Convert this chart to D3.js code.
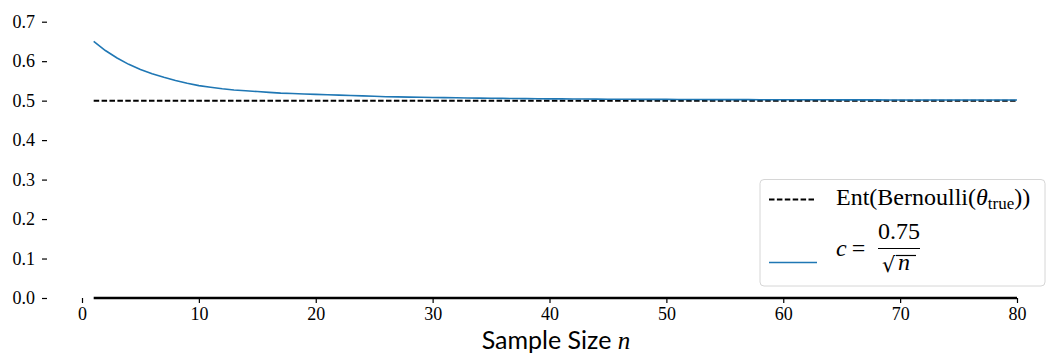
<!DOCTYPE html>
<html>
<head>
<meta charset="utf-8">
<script src="https://cdn.jsdelivr.net/npm/d3@7"></script>
<style>
  body { margin: 0; background: #fff; }
  svg text { font-family: "Liberation Serif", serif; }
</style>
</head>
<body>
<svg id="chart" width="1048" height="360"></svg>
<script>
// sample sizes and the estimated entropy
let sampleSizes = d3.range(1, 81);
let entropyEst = [
  0.650, 0.627, 0.608, 0.592, 0.579, 0.568, 0.559, 0.551, 0.544, 0.538,
  0.534, 0.530, 0.527, 0.525, 0.523, 0.521, 0.519, 0.518, 0.517, 0.516,
  0.515, 0.514, 0.513, 0.512, 0.511, 0.510, 0.5095, 0.509, 0.5085, 0.508,
  0.5076, 0.5072, 0.5068, 0.5064, 0.506, 0.5057, 0.5054, 0.5051, 0.5048, 0.5046,
  0.5044, 0.5042, 0.5040, 0.5038, 0.5036, 0.5035, 0.5034, 0.5033, 0.5032, 0.5031,
  0.5030, 0.5029, 0.5028, 0.5027, 0.5026, 0.5025, 0.5025, 0.5024, 0.5023, 0.5023,
  0.5022, 0.5022, 0.5021, 0.5021, 0.5020, 0.5020, 0.5019, 0.5019, 0.5018, 0.5018,
  0.5018, 0.5017, 0.5017, 0.5017, 0.5016, 0.5016, 0.5016, 0.5015, 0.5015, 0.5015
];
let trueEntropy = 0.5;
let xTicks = [0, 10, 20, 30, 40, 50, 60, 70, 80];
let yTicks = [0, 0.1, 0.2, 0.3, 0.4, 0.5, 0.6, 0.7];

let svg = d3.select("#chart");

let x = d3.scaleLinear().domain([0, 80]).range([82, 1017]);
let y = d3.scaleLinear().domain([0, 0.7]).range([298, 21.7]);

// y axis: ticks only, no spine
let yAxis = d3.axisLeft(y).tickValues(yTicks).tickFormat(d3.format(".1f"))
    .tickSize(5).tickPadding(7);
let gy = svg.append("g").attr("transform", "translate(47,0)").call(yAxis);
gy.select(".domain").remove();
gy.selectAll(".tick line").attr("stroke", "#000").attr("stroke-width", 1.2);
gy.selectAll("text").style("font-size", "18px").attr("fill", "#000");

// x axis: spine trimmed to the data range
let xAxis = d3.axisBottom(x).tickValues(xTicks).tickSize(5).tickPadding(4);
let gx = svg.append("g").attr("transform", "translate(0,298)").call(xAxis);
gx.select(".domain").remove();
gx.selectAll(".tick line").attr("stroke", "#000").attr("stroke-width", 1.2);
gx.selectAll("text").style("font-size", "18px").attr("fill", "#000");

svg.append("line")
    .attr("x1", x(1)).attr("x2", x(80))
    .attr("y1", 298).attr("y2", 298)
    .attr("stroke", "#000").attr("stroke-width", 2.5);

// true entropy
svg.append("line")
    .attr("x1", x(1)).attr("x2", x(80))
    .attr("y1", y(trueEntropy)).attr("y2", y(trueEntropy))
    .attr("stroke", "#000").attr("stroke-width", 2)
    .attr("stroke-dasharray", "5.5,2.4");

// estimate curve
let line = d3.line()
    .x(function(d, i) { return x(sampleSizes[i]); })
    .y(function(d) { return y(d); });

svg.append("path")
    .datum(entropyEst)
    .attr("d", line)
    .attr("fill", "none")
    .attr("stroke", "#1f77b4")
    .attr("stroke-width", 1.6);

// x label
let xl = svg.append("text")
    .attr("x", 556).attr("y", 349)
    .attr("text-anchor", "middle")
    .style("font-family", "Lato, sans-serif")
    .style("font-size", "25px");
xl.append("tspan").text("Sample Size ");
xl.append("tspan").style("font-family", "Liberation Serif, serif").style("font-style", "italic").text("n");

// legend
let lg = svg.append("g");
lg.append("rect")
    .attr("x", 760).attr("y", 179.5).attr("width", 285).attr("height", 106.5)
    .attr("rx", 4).attr("fill", "#fff").attr("fill-opacity", 0.8)
    .attr("stroke", "#d6d6d6").attr("stroke-width", 1);

lg.append("line")
    .attr("x1", 769).attr("x2", 814).attr("y1", 199.5).attr("y2", 199.5)
    .attr("stroke", "#000").attr("stroke-width", 2)
    .attr("stroke-dasharray", "5.5,2.4");

let t1 = lg.append("text").attr("x", 836).attr("y", 204.5).style("font-size", "24px");
t1.append("tspan").text("Ent(Bernoulli(");
t1.append("tspan").style("font-style", "italic").text("θ");
t1.append("tspan").attr("dy", 4).style("font-size", "17px").text("true");
t1.append("tspan").attr("dy", -4).text("))");

lg.append("line")
    .attr("x1", 769).attr("x2", 817).attr("y1", 262.5).attr("y2", 262.5)
    .attr("stroke", "#1f77b4").attr("stroke-width", 1.6);

let t2 = lg.append("text").attr("x", 836).attr("y", 256).style("font-size", "24px");
t2.append("tspan").style("font-style", "italic").text("c");
t2.append("tspan").attr("dx", 5).text("=");

lg.append("text").attr("x", 899).attr("y", 238.5).attr("text-anchor", "middle")
    .style("font-size", "24px").text("0.75");
lg.append("line").attr("x1", 878).attr("x2", 920).attr("y1", 248.5).attr("y2", 248.5)
    .attr("stroke", "#000").attr("stroke-width", 1.2);
lg.append("text").attr("x", 882).attr("y", 272)
    .style("font-family", "DejaVu Serif, serif").style("font-size", "21px").text("√");
lg.append("line").attr("x1", 896).attr("x2", 916).attr("y1", 255.5).attr("y2", 255.5)
    .attr("stroke", "#000").attr("stroke-width", 1.2);
lg.append("text").attr("x", 898).attr("y", 270)
    .style("font-style", "italic").style("font-size", "24px").text("n");
</script>
</body>
</html>
